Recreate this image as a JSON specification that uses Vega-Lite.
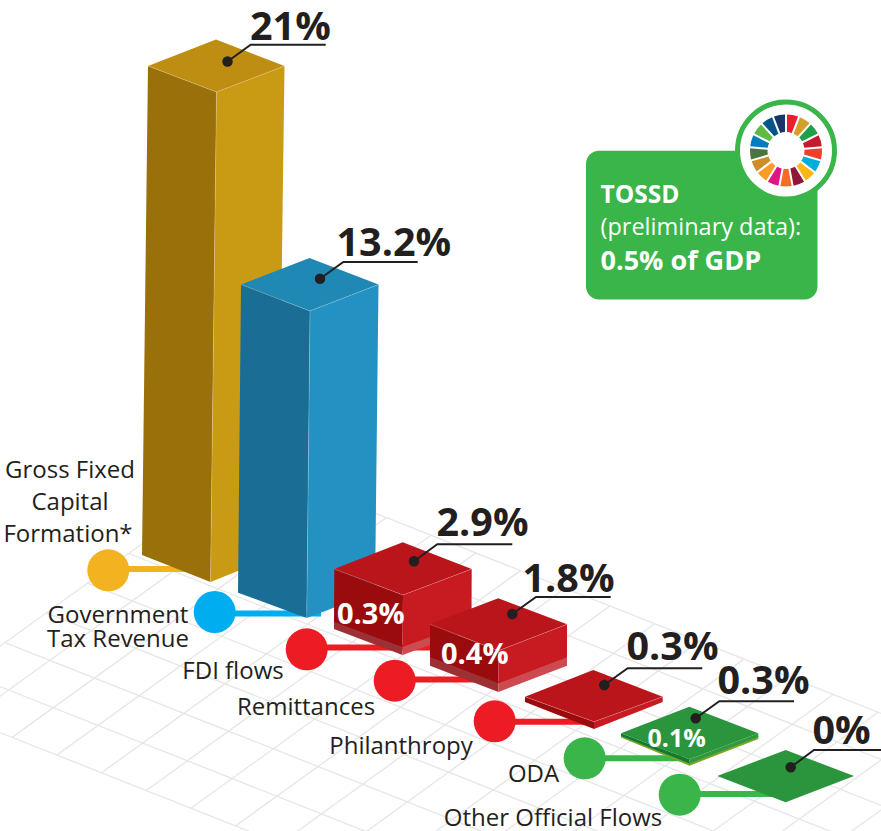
{
"$schema":"https://vega.github.io/schema/vega-lite/v6.json",
"width":881,"height":831,"padding":0,"autosize":{"type":"none"},
"background":"white",
"config":{"view":{"stroke":null}},
"datasets":{
"grid":[
{"x":-77.3,"y":702,"x2":727.3,"y2":1020.6},{"x":-36.1,"y":672.3,"x2":768.5,"y2":990.9},{"x":5.1,"y":642.6,"x2":809.7,"y2":961.2},{"x":46.3,"y":612.9,"x2":850.9,"y2":931.5},{"x":87.5,"y":583.2,"x2":892.1,"y2":901.8},{"x":128.7,"y":553.5,"x2":933.3,"y2":872.1},{"x":169.9,"y":523.8,"x2":974.5,"y2":842.4},{"x":211.1,"y":494.1,"x2":1015.7,"y2":812.7},{"x":252.3,"y":464.4,"x2":1056.9,"y2":783},
{"x":-77.3,"y":702,"x2":252.3,"y2":464.4},{"x":-32.6,"y":719.7,"x2":297,"y2":482.1},{"x":12.1,"y":737.4,"x2":341.7,"y2":499.8},{"x":56.8,"y":755.1,"x2":386.4,"y2":517.5},{"x":101.5,"y":772.8,"x2":431.1,"y2":535.2},{"x":146.2,"y":790.5,"x2":475.8,"y2":552.9},{"x":190.9,"y":808.2,"x2":520.5,"y2":570.6},{"x":235.6,"y":825.9,"x2":565.2,"y2":588.3},{"x":280.3,"y":843.6,"x2":609.9,"y2":606},{"x":325,"y":861.3,"x2":654.6,"y2":623.7},{"x":369.7,"y":879,"x2":699.3,"y2":641.4},{"x":414.4,"y":896.7,"x2":744,"y2":659.1},{"x":459.1,"y":914.4,"x2":788.7,"y2":676.8},{"x":503.8,"y":932.1,"x2":833.4,"y2":694.5},{"x":548.5,"y":949.8,"x2":878.1,"y2":712.2},{"x":593.2,"y":967.5,"x2":922.8,"y2":729.9},{"x":637.9,"y":985.2,"x2":967.5,"y2":747.6},{"x":682.6,"y":1002.9,"x2":1012.2,"y2":765.3},{"x":727.3,"y":1020.6,"x2":1056.9,"y2":783}
],
"links":[
{"series":"Gross Fixed Capital Formation*","x":108,"x2":190,"y":569},
{"series":"Government Tax Revenue","x":214,"x2":321,"y":613.5},
{"series":"FDI flows","x":306,"x2":432,"y":647.5},
{"series":"Remittances","x":394,"x2":480,"y":679.5},
{"series":"Philanthropy","x":494,"x2":585,"y":721.7},
{"series":"ODA","x":584,"x2":682,"y":758.3},
{"series":"Other Official Flows","x":679,"x2":782,"y":794}
],
"faces":[
{"face":"gold-left","i":0,"x":148,"y":66},{"face":"gold-left","i":1,"x":216.5,"y":92},{"face":"gold-left","i":2,"x":210.5,"y":582},{"face":"gold-left","i":3,"x":142,"y":555},
{"face":"gold-right","i":0,"x":216.5,"y":92},{"face":"gold-right","i":1,"x":284.5,"y":66},{"face":"gold-right","i":2,"x":278,"y":555},{"face":"gold-right","i":3,"x":210.5,"y":582},
{"face":"gold-top","i":0,"x":148,"y":66},{"face":"gold-top","i":1,"x":216,"y":39.5},{"face":"gold-top","i":2,"x":284.5,"y":66},{"face":"gold-top","i":3,"x":216.5,"y":92},
{"face":"blue-left","i":0,"x":241,"y":284.5},{"face":"blue-left","i":1,"x":310,"y":311},{"face":"blue-left","i":2,"x":306.7,"y":618},{"face":"blue-left","i":3,"x":238,"y":592.7},
{"face":"blue-right","i":0,"x":310,"y":311},{"face":"blue-right","i":1,"x":378.5,"y":284.5},{"face":"blue-right","i":2,"x":375,"y":592},{"face":"blue-right","i":3,"x":306.7,"y":618},
{"face":"blue-top","i":0,"x":241,"y":284.5},{"face":"blue-top","i":1,"x":309.5,"y":258},{"face":"blue-top","i":2,"x":378.5,"y":284.5},{"face":"blue-top","i":3,"x":310,"y":311},
{"face":"fdi-stripL","i":0,"x":334,"y":620},{"face":"fdi-stripL","i":1,"x":402.5,"y":645},{"face":"fdi-stripL","i":2,"x":402.5,"y":655},{"face":"fdi-stripL","i":3,"x":334,"y":629},
{"face":"fdi-stripR","i":0,"x":402.5,"y":645},{"face":"fdi-stripR","i":1,"x":471.5,"y":620},{"face":"fdi-stripR","i":2,"x":471.5,"y":630},{"face":"fdi-stripR","i":3,"x":402.5,"y":655},
{"face":"fdi-left","i":0,"x":334.3,"y":569},{"face":"fdi-left","i":1,"x":403,"y":595},{"face":"fdi-left","i":2,"x":402.5,"y":647},{"face":"fdi-left","i":3,"x":334,"y":622},
{"face":"fdi-right","i":0,"x":403,"y":595},{"face":"fdi-right","i":1,"x":471.7,"y":569},{"face":"fdi-right","i":2,"x":471.5,"y":622},{"face":"fdi-right","i":3,"x":402.5,"y":647},
{"face":"fdi-top","i":0,"x":334.3,"y":569},{"face":"fdi-top","i":1,"x":402.7,"y":542.3},{"face":"fdi-top","i":2,"x":471.7,"y":569},{"face":"fdi-top","i":3,"x":403,"y":595},
{"face":"rem-stripL","i":0,"x":430,"y":655},{"face":"rem-stripL","i":1,"x":498.5,"y":681},{"face":"rem-stripL","i":2,"x":498.5,"y":692},{"face":"rem-stripL","i":3,"x":430,"y":665.7},
{"face":"rem-stripR","i":0,"x":498.5,"y":681},{"face":"rem-stripR","i":1,"x":567,"y":655},{"face":"rem-stripR","i":2,"x":567,"y":665.7},{"face":"rem-stripR","i":3,"x":498.5,"y":692},
{"face":"rem-left","i":0,"x":430,"y":624.3},{"face":"rem-left","i":1,"x":498.5,"y":650.7},{"face":"rem-left","i":2,"x":498.5,"y":683.3},{"face":"rem-left","i":3,"x":430,"y":657},
{"face":"rem-right","i":0,"x":498.5,"y":650.7},{"face":"rem-right","i":1,"x":567,"y":624.3},{"face":"rem-right","i":2,"x":567,"y":657.3},{"face":"rem-right","i":3,"x":498.5,"y":683.3},
{"face":"rem-top","i":0,"x":430,"y":624.3},{"face":"rem-top","i":1,"x":498.3,"y":598.3},{"face":"rem-top","i":2,"x":567,"y":624.3},{"face":"rem-top","i":3,"x":498.5,"y":650.7},
{"face":"phi-left","i":0,"x":525,"y":696.7},{"face":"phi-left","i":1,"x":594,"y":721.7},{"face":"phi-left","i":2,"x":594,"y":729},{"face":"phi-left","i":3,"x":525,"y":702},
{"face":"phi-right","i":0,"x":594,"y":721.7},{"face":"phi-right","i":1,"x":662.7,"y":696.7},{"face":"phi-right","i":2,"x":662.7,"y":702},{"face":"phi-right","i":3,"x":594,"y":729},
{"face":"phi-top","i":0,"x":525,"y":696.7},{"face":"phi-top","i":1,"x":593.3,"y":670},{"face":"phi-top","i":2,"x":662.7,"y":696.7},{"face":"phi-top","i":3,"x":594,"y":721.7},
{"face":"oda-strip","i":0,"x":621,"y":735},{"face":"oda-strip","i":1,"x":689.5,"y":762},{"face":"oda-strip","i":2,"x":758.3,"y":736},{"face":"oda-strip","i":3,"x":758.3,"y":739},{"face":"oda-strip","i":4,"x":689.5,"y":765.7},{"face":"oda-strip","i":5,"x":621,"y":737.5},
{"face":"oda-left","i":0,"x":621,"y":733.3},{"face":"oda-left","i":1,"x":689.5,"y":759.3},{"face":"oda-left","i":2,"x":689.5,"y":763.5},{"face":"oda-left","i":3,"x":621,"y":736},
{"face":"oda-right","i":0,"x":689.5,"y":759.3},{"face":"oda-right","i":1,"x":758.3,"y":733.3},{"face":"oda-right","i":2,"x":758.3,"y":737},{"face":"oda-right","i":3,"x":689.5,"y":763.5},
{"face":"oda-top","i":0,"x":621,"y":733.3},{"face":"oda-top","i":1,"x":689.3,"y":706.7},{"face":"oda-top","i":2,"x":758.3,"y":733.3},{"face":"oda-top","i":3,"x":689.5,"y":759.3},
{"face":"oof-top","i":0,"x":717.3,"y":776},{"face":"oof-top","i":1,"x":785.7,"y":750},{"face":"oof-top","i":2,"x":854,"y":776},{"face":"oof-top","i":3,"x":785.7,"y":802.3}
],
"edges":[
{"bar":"gold","i":0,"x":148,"y":66},{"bar":"gold","i":1,"x":216.5,"y":92},{"bar":"gold","i":2,"x":284.5,"y":66},
{"bar":"goldv","i":0,"x":216.5,"y":92},{"bar":"goldv","i":1,"x":210.5,"y":582},
{"bar":"blue","i":0,"x":241,"y":284.5},{"bar":"blue","i":1,"x":310,"y":311},{"bar":"blue","i":2,"x":378.5,"y":284.5},
{"bar":"bluev","i":0,"x":310,"y":311},{"bar":"bluev","i":1,"x":306.7,"y":618},
{"bar":"fdi","i":0,"x":334.3,"y":569},{"bar":"fdi","i":1,"x":403,"y":595},{"bar":"fdi","i":2,"x":471.7,"y":569},
{"bar":"rem","i":0,"x":430,"y":624.3},{"bar":"rem","i":1,"x":498.5,"y":650.7},{"bar":"rem","i":2,"x":567,"y":624.3},
{"bar":"phi","i":0,"x":525,"y":696.7},{"bar":"phi","i":1,"x":594,"y":721.7},{"bar":"phi","i":2,"x":662.7,"y":696.7}
],
"markers":[
{"series":"Gross Fixed Capital Formation*","x":108.3,"y":570.3},
{"series":"Government Tax Revenue","x":214.7,"y":612},
{"series":"FDI flows","x":306.7,"y":649.3},
{"series":"Remittances","x":394.7,"y":680.7},
{"series":"Philanthropy","x":494.7,"y":721.3},
{"series":"ODA","x":584.7,"y":758.3},
{"series":"Other Official Flows","x":679.7,"y":794.7}
],
"leaders":[
{"bar":"gfcf","i":0,"x":227.5,"y":61.5},{"bar":"gfcf","i":1,"x":250.7,"y":44.7},{"bar":"gfcf","i":2,"x":325.7,"y":44.7},
{"bar":"tax","i":0,"x":320,"y":278.7},{"bar":"tax","i":1,"x":343.3,"y":262},{"bar":"tax","i":2,"x":417.7,"y":262},
{"bar":"fdi","i":0,"x":414,"y":561.3},{"bar":"fdi","i":1,"x":437.3,"y":544.3},{"bar":"fdi","i":2,"x":512.3,"y":544.3},
{"bar":"rem","i":0,"x":512.3,"y":614},{"bar":"rem","i":1,"x":536,"y":597},{"bar":"rem","i":2,"x":610.7,"y":597},
{"bar":"phi","i":0,"x":604.3,"y":685},{"bar":"phi","i":1,"x":627.7,"y":668.3},{"bar":"phi","i":2,"x":702.3,"y":668.3},
{"bar":"oda","i":0,"x":695.7,"y":718.3},{"bar":"oda","i":1,"x":719.3,"y":701.3},{"bar":"oda","i":2,"x":794,"y":701.3},
{"bar":"oof","i":0,"x":790.7,"y":767.3},{"bar":"oof","i":1,"x":814,"y":750},{"bar":"oof","i":2,"x":881,"y":750}
],
"values":[
{"label":"21%","x":250,"y":40},{"label":"13.2%","x":336.5,"y":256},{"label":"2.9%","x":436.5,"y":536},{"label":"1.8%","x":522.5,"y":592},{"label":"0.3%","x":626.5,"y":660},{"label":"0.3%","x":717.5,"y":694},{"label":"0%","x":812.5,"y":744}
],
"inner":[
{"label":"0.3%","x":337,"y":624,"s":"big"},{"label":"0.4%","x":441,"y":664,"s":"big"},{"label":"0.1%","x":647.5,"y":747,"s":"small"}
],
"names":[
{"label":"Gross Fixed","x":70,"y":478},{"label":"Capital","x":70,"y":510},{"label":"Formation*","x":68,"y":542},
{"label":"Government","x":118,"y":623},{"label":"Tax Revenue","x":118,"y":647},
{"label":"FDI flows","x":233,"y":679},{"label":"Remittances","x":306,"y":715},{"label":"Philanthropy","x":401,"y":754},{"label":"ODA","x":533.5,"y":782},{"label":"Other Official Flows","x":553,"y":826}
],
"box":[{"x":586,"x2":817.5,"y":150.7,"y2":299.5}],
"ring":[{"x":786,"y":150.5}],
"goals":[
{"goal":1,"share":1,"x":786,"y":150.5},{"goal":2,"share":1,"x":786,"y":150.5},{"goal":3,"share":1,"x":786,"y":150.5},{"goal":4,"share":1,"x":786,"y":150.5},{"goal":5,"share":1,"x":786,"y":150.5},{"goal":6,"share":1,"x":786,"y":150.5},{"goal":7,"share":1,"x":786,"y":150.5},{"goal":8,"share":1,"x":786,"y":150.5},{"goal":9,"share":1,"x":786,"y":150.5},{"goal":10,"share":1,"x":786,"y":150.5},{"goal":11,"share":1,"x":786,"y":150.5},{"goal":12,"share":1,"x":786,"y":150.5},{"goal":13,"share":1,"x":786,"y":150.5},{"goal":14,"share":1,"x":786,"y":150.5},{"goal":15,"share":1,"x":786,"y":150.5},{"goal":16,"share":1,"x":786,"y":150.5},{"goal":17,"share":1,"x":786,"y":150.5}
],
"boxbold":[{"label":"TOSSD","x":600.5,"y":203,"s":"title"},{"label":"0.5% of GDP","x":600.5,"y":270,"s":"figure"}],
"boxreg":[{"label":"(preliminary data):","x":600.5,"y":235}]
},
"encoding":{
"x":{"field":"x","type":"quantitative","scale":{"domain":[0,881],"range":[0,881],"nice":false,"zero":false},"axis":null},
"y":{"field":"y","type":"quantitative","scale":{"domain":[0,831],"range":[0,831],"nice":false,"zero":false},"axis":null}
},
"layer":[
{"data":{"name":"grid"},"mark":{"type":"rule","color":"#e6e6e6","strokeWidth":1.3,"clip":true},"encoding":{"x2":{"field":"x2"},"y2":{"field":"y2"}}},
{"data":{"name":"links"},"mark":{"type":"rule","strokeWidth":6},"encoding":{"x2":{"field":"x2"},"color":{"field":"series","type":"nominal","legend":null,"scale":{"domain":["Gross Fixed Capital Formation*","Government Tax Revenue","FDI flows","Remittances","Philanthropy","ODA","Other Official Flows"],"range":["#f3b21f","#00aeef","#ed1c24","#ed1c24","#ed1c24","#39b54a","#39b54a"]}}}},
{"data":{"name":"faces"},"mark":{"type":"line","filled":true,"interpolate":"linear-closed"},"encoding":{"order":{"field":"i","type":"quantitative"},"color":{"field":"face","type":"nominal","legend":null,"sort":null,"scale":{"domain":["gold-left","gold-right","gold-top","blue-left","blue-right","blue-top","fdi-stripL","fdi-stripR","fdi-left","fdi-right","fdi-top","rem-stripL","rem-stripR","rem-left","rem-right","rem-top","phi-left","phi-right","phi-top","oda-strip","oda-left","oda-right","oda-top","oof-top"],"range":["#9a700a","#c99a14","#be8e12","#1a6e96","#2392c3","#1f88b5","#9c3035","#cc4a50","#9a0b0e","#c71a21","#b9151b","#9c3035","#cc4a50","#9a0b0e","#c71a21","#b9151b","#9a0b0e","#c71a21","#b9151b","#7ba428","#127a33","#2f9a3f","#2a953c","#2a953c"]}}}},
{"data":{"name":"edges"},"mark":{"type":"line","color":"#ffffff","opacity":0.3,"strokeWidth":0.7},"encoding":{"detail":{"field":"bar"},"order":{"field":"i","type":"quantitative"}}},
{"data":{"name":"markers"},"mark":{"type":"point","filled":true,"opacity":1,"size":1764},"encoding":{"shape":{"value":"circle"},"color":{"field":"series","type":"nominal","legend":null,"scale":{"domain":["Gross Fixed Capital Formation*","Government Tax Revenue","FDI flows","Remittances","Philanthropy","ODA","Other Official Flows"],"range":["#f3b21f","#00aeef","#ed1c24","#ed1c24","#ed1c24","#39b54a","#39b54a"]}}}},
{"data":{"name":"leaders"},"mark":{"type":"line","color":"#231f20","strokeWidth":2},"encoding":{"detail":{"field":"bar"},"order":{"field":"i","type":"quantitative"}}},
{"data":{"name":"leaders"},"transform":[{"filter":"datum.i === 0"}],"mark":{"type":"point","filled":true,"opacity":1,"size":110,"color":"#231f20"},"encoding":{"shape":{"value":"circle"}}},
{"data":{"name":"values"},"mark":{"type":"text","font":"Open Sans","fontWeight":"bold","fontSize":39.5,"align":"left","baseline":"alphabetic","color":"#231f20"},"encoding":{"text":{"field":"label"}}},
{"data":{"name":"inner"},"mark":{"type":"text","font":"Open Sans","fontWeight":"bold","align":"left","baseline":"alphabetic","color":"#ffffff"},"encoding":{"text":{"field":"label"},"size":{"field":"s","type":"nominal","legend":null,"scale":{"domain":["big","small"],"range":[29,25]}}}},
{"data":{"name":"names"},"mark":{"type":"text","font":"Open Sans","fontSize":24,"align":"center","baseline":"alphabetic","color":"#231f20"},"encoding":{"text":{"field":"label"}}},
{"data":{"name":"box"},"mark":{"type":"rect","color":"#39b54a","cornerRadius":13},"encoding":{"x2":{"field":"x2"},"y2":{"field":"y2"}}},
{"data":{"name":"ring"},"mark":{"type":"point","filled":false,"size":9409,"fill":"#ffffff","fillOpacity":1,"stroke":"#39b54a","strokeWidth":5,"opacity":1},"encoding":{"shape":{"value":"circle"}}},
{"data":{"name":"goals"},"mark":{"type":"arc","radius":36,"radius2":18.5,"padAngle":0.05},"encoding":{"theta":{"field":"share","type":"quantitative","stack":true},"order":{"field":"goal","type":"quantitative"},"color":{"field":"goal","type":"nominal","legend":null,"scale":{"domain":[1,2,3,4,5,6,7,8,9,10,11,12,13,14,15,16,17],"range":["#ed1c2e","#d3a029","#21a04a","#c5192d","#ef402b","#00aed9","#fdb713","#8f1838","#f36d25","#e11484","#f99d26","#cf8d2a","#48773e","#007dbc","#5dbb46","#02558b","#183668"]}}}},
{"data":{"name":"boxbold"},"mark":{"type":"text","font":"Open Sans","fontWeight":"bold","align":"left","baseline":"alphabetic","color":"#ffffff"},"encoding":{"text":{"field":"label"},"size":{"field":"s","type":"nominal","legend":null,"scale":{"domain":["title","figure"],"range":[24.5,27]}}}},
{"data":{"name":"boxreg"},"mark":{"type":"text","font":"Open Sans","fontSize":23.5,"align":"left","baseline":"alphabetic","color":"#ffffff"},"encoding":{"text":{"field":"label"}}}
],
"resolve":{"scale":{"color":"independent","size":"independent"}}
}
